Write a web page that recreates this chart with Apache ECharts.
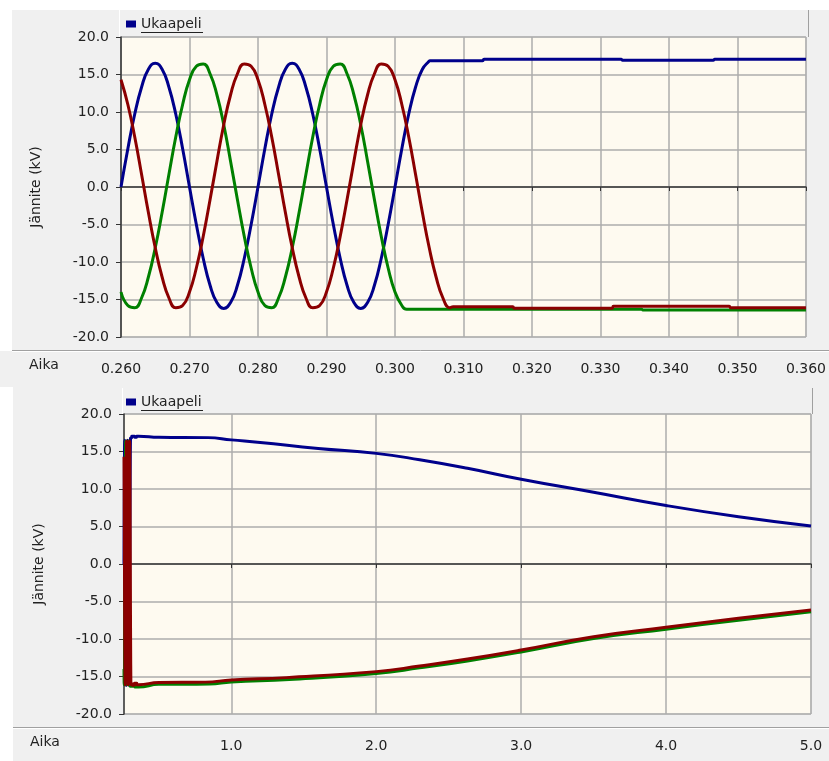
<!DOCTYPE html>
<html>
<head>
<meta charset="utf-8">
<script src="https://cdn.jsdelivr.net/npm/echarts@6/dist/echarts.min.js"></script>
<style>
  html, body { margin: 0; padding: 0; background: #fff; }
  #chart { width: 829px; height: 761px; }
</style>
</head>
<body>
<div id="chart"></div>
<script>
// sampled three-phase voltage (kV), one sample per ms from t = 0.260 s
const waveStart = 0.26;
const waveStep = 0.001;

const blueWave = [
  0, 5.1, 9.7, 13.3, 15.7, 16.5, 15.7, 13.3, 9.7, 5.1,
  0, -5.0, -9.5, -13.1, -15.4, -16.2, -15.4, -13.1, -9.5, -5.0,
  0, 5.1, 9.7, 13.3, 15.7, 16.5, 15.7, 13.3, 9.7, 5.1,
  0, -5.0, -9.5, -13.1, -15.4, -16.2, -15.4, -13.1, -9.5, -5.0,
  0, 5.1, 9.7, 13.3, 15.7, 16.8
];
const greenWave = [
  -14.0, -15.8, -16.1, -14.8, -12.0, -8.1, -3.4, 1.7, 6.7, 11.0,
  14.3, 16.1, 16.4, 15.1, 12.3, 8.3, 3.4, -1.7, -6.6, -10.8,
  -14.0, -15.8, -16.1, -14.8, -12.0, -8.1, -3.4, 1.7, 6.7, 11.0,
  14.3, 16.1, 16.4, 15.1, 12.3, 8.3, 3.4, -1.7, -6.6, -10.8,
  -14.0, -15.8
];
const redWave = [
  14.3, 11.0, 6.7, 1.7, -3.4, -8.1, -12.0, -14.8, -16.1, -15.8,
  -14.0, -10.8, -6.6, -1.7, 3.4, 8.3, 12.3, 15.1, 16.4, 16.1,
  14.3, 11.0, 6.7, 1.7, -3.4, -8.1, -12.0, -14.8, -16.1, -15.8,
  -14.0, -10.8, -6.6, -1.7, 3.4, 8.3, 12.3, 15.1, 16.4, 16.1,
  14.3, 11.0, 6.7, 1.7, -3.4, -8.1, -12.0, -14.8, -16.1
];

// after the break each phase holds its last level [t, kV]
const blueHold = [[0.3051, 16.85], [0.3128, 16.85], [0.313, 17.05], [0.333, 17.05],
  [0.3332, 16.9], [0.3465, 16.9], [0.3467, 17.05], [0.36, 17.05]];
const greenHold = [[0.3017, -16.3], [0.336, -16.3], [0.3362, -16.4], [0.36, -16.4]];
const redHold = [[0.3085, -15.95], [0.3172, -15.95], [0.3174, -16.15], [0.3317, -16.15],
  [0.3319, -15.9], [0.3488, -15.9], [0.349, -16.1], [0.36, -16.1]];

// slow discharge up to 5 s [t, kV]
const blueLong = [[0.5, 16.9], [0.84, 16.85], [1.0, 16.55], [1.2, 16.2], [1.6, 15.4],
  [2.0, 14.75], [2.3, 13.9], [2.63, 12.76], [3.0, 11.3], [3.5, 9.56], [4.0, 7.8],
  [4.5, 6.3], [5.0, 5.07]];
const greenLong = [[0.5, -16.05], [0.85, -16.0], [1.0, -15.72], [1.4, -15.4], [2.0, -14.6],
  [2.3, -13.85], [2.63, -12.92], [3.0, -11.72], [3.5, -9.94], [4.0, -8.69], [4.5, -7.49],
  [5.0, -6.38]];
const redLong = [[0.5, -15.8], [0.82, -15.75], [1.0, -15.47], [1.38, -15.15], [2.0, -14.35],
  [2.3, -13.6], [2.63, -12.67], [3.0, -11.47], [3.5, -9.69], [4.0, -8.44], [4.5, -7.24],
  [5.0, -6.13]];

const longTicks = [1, 2, 3, 4, 5];

const BLUE = '#00008b', GREEN = '#008000', RED = '#8b0000';
const FONT = 'DejaVu Sans';
const TEXT = '#222';

function wavePoints(values, hold) {
  return values.map((v, i) => [+(waveStart + i * waveStep).toFixed(4), v]).concat(hold);
}

const topBlue = wavePoints(blueWave, blueHold);
const topGreen = wavePoints(greenWave, greenHold);
const topRed = wavePoints(redWave, redHold);

const chart = echarts.init(document.getElementById('chart'));

const lineSeries = (name, data, color, idx) => ({
  name: name,
  type: 'line',
  xAxisIndex: idx,
  yAxisIndex: idx,
  data: data,
  showSymbol: false,
  smooth: 0.5,
  lineStyle: { color: color, width: 3 },
  itemStyle: { color: color },
  emphasis: { disabled: true }
});

const yAxisOpt = (idx) => ({
  type: 'value',
  gridIndex: idx,
  min: -20,
  max: 20,
  interval: 5,
  name: 'Jännite (kV)',
  nameLocation: 'middle',
  nameGap: 78,
  nameTextStyle: { fontSize: 14, color: TEXT, fontFamily: FONT },
  axisLine: { show: true, lineStyle: { color: '#333', width: 1.5 } },
  axisTick: { show: true, length: 5, lineStyle: { color: '#333' } },
  axisLabel: { fontSize: 14, color: TEXT, fontFamily: FONT, margin: 12,
    formatter: (v) => v.toFixed(1) },
  splitLine: { show: true, lineStyle: { color: '#adadad', width: 1.5 } }
});

const xAxisBase = {
  type: 'value',
  axisLine: { show: true, lineStyle: { color: '#333', width: 1.5 } },
  splitLine: { show: true, lineStyle: { color: '#adadad', width: 1.5 } }
};

const legendOpt = (top) => ({
  data: ['Ukaapeli'],
  left: 126,
  top: top,
  padding: 0,
  icon: 'rect',
  itemWidth: 10,
  itemHeight: 7,
  selectedMode: false,
  textStyle: { fontSize: 14, color: TEXT, fontFamily: FONT }
});

const axisTitle = (x, y) => ({
  type: 'text', x: x, y: y, silent: true,
  style: { text: 'Aika', fill: TEXT, font: '14px "DejaVu Sans"', verticalAlign: 'middle' }
});

chart.setOption({
  animation: false,
  backgroundColor: '#f0f0f0',
  legend: [legendOpt(17), legendOpt(395)],
  grid: [
    { left: 121, top: 37, width: 689, height: 300, show: true,
      backgroundColor: '#fefaf0', borderColor: '#c8c8c8', borderWidth: 1 },
    { left: 124, top: 414, width: 687, height: 300, show: true,
      backgroundColor: '#fefaf0', borderColor: '#c8c8c8', borderWidth: 1 }
  ],
  xAxis: [
    Object.assign({}, xAxisBase, {
      gridIndex: 0, min: 0.26, max: 0.36, interval: 0.01, offset: 17,
      axisTick: { show: true, length: 4, lineStyle: { color: '#333' } },
      axisLabel: { fontSize: 14, color: TEXT, fontFamily: FONT, margin: 8,
        formatter: (v) => v.toFixed(3) }
    }),
    Object.assign({}, xAxisBase, {
      gridIndex: 1, min: 0.26, max: 5, offset: 16,
      axisTick: { show: true, length: 4, lineStyle: { color: '#333' }, customValues: longTicks },
      axisLabel: { fontSize: 14, color: TEXT, fontFamily: FONT, margin: 9,
        customValues: longTicks, formatter: (v) => v.toFixed(1) }
    })
  ],
  yAxis: [yAxisOpt(0), yAxisOpt(1)],
  series: [
    lineSeries('Ukaapeli', topBlue, BLUE, 0),
    lineSeries('Ukaapeli L3', topGreen, GREEN, 0),
    lineSeries('Ukaapeli L2', topRed, RED, 0),
    lineSeries('Ukaapeli', topBlue.concat(blueLong), BLUE, 1),
    lineSeries('Ukaapeli L3', topGreen.concat(greenLong), GREEN, 1),
    lineSeries('Ukaapeli L2', topRed.concat(redLong), RED, 1)
  ],
  graphic: [
    { type: 'rect', shape: { x: 0, y: 0, width: 829, height: 10 }, style: { fill: '#fff' }, silent: true },
    { type: 'rect', shape: { x: 0, y: 0, width: 12, height: 351 }, style: { fill: '#fff' }, silent: true },
    { type: 'rect', shape: { x: 0, y: 387, width: 13, height: 374 }, style: { fill: '#fff' }, silent: true },
    { type: 'line', shape: { x1: 12, y1: 350.5, x2: 829, y2: 350.5 }, style: { stroke: '#a0a0a0', lineWidth: 1 }, silent: true },
    { type: 'line', shape: { x1: 12, y1: 351.5, x2: 829, y2: 351.5 }, style: { stroke: '#fff', lineWidth: 1 }, silent: true },
    { type: 'line', shape: { x1: 13, y1: 727.5, x2: 829, y2: 727.5 }, style: { stroke: '#a0a0a0', lineWidth: 1 }, silent: true },
    { type: 'line', shape: { x1: 13, y1: 728.5, x2: 829, y2: 728.5 }, style: { stroke: '#fff', lineWidth: 1 }, silent: true },
    { type: 'line', shape: { x1: 119.5, y1: 10, x2: 119.5, y2: 37 }, style: { stroke: '#fff', lineWidth: 1 }, silent: true },
    { type: 'line', shape: { x1: 808.5, y1: 10, x2: 808.5, y2: 37 }, style: { stroke: '#a0a0a0', lineWidth: 1 }, silent: true },
    { type: 'line', shape: { x1: 122.5, y1: 388, x2: 122.5, y2: 414 }, style: { stroke: '#fff', lineWidth: 1 }, silent: true },
    { type: 'line', shape: { x1: 812.5, y1: 388, x2: 812.5, y2: 414 }, style: { stroke: '#a0a0a0', lineWidth: 1 }, silent: true },
    // underlined legend text
    { type: 'line', shape: { x1: 141, y1: 32.5, x2: 203, y2: 32.5 }, style: { stroke: '#222', lineWidth: 1 }, silent: true },
    { type: 'line', shape: { x1: 141, y1: 410.5, x2: 203, y2: 410.5 }, style: { stroke: '#222', lineWidth: 1 }, silent: true },
    axisTitle(29, 365),
    axisTitle(30, 742)
  ]
});
</script>
</body>
</html>
